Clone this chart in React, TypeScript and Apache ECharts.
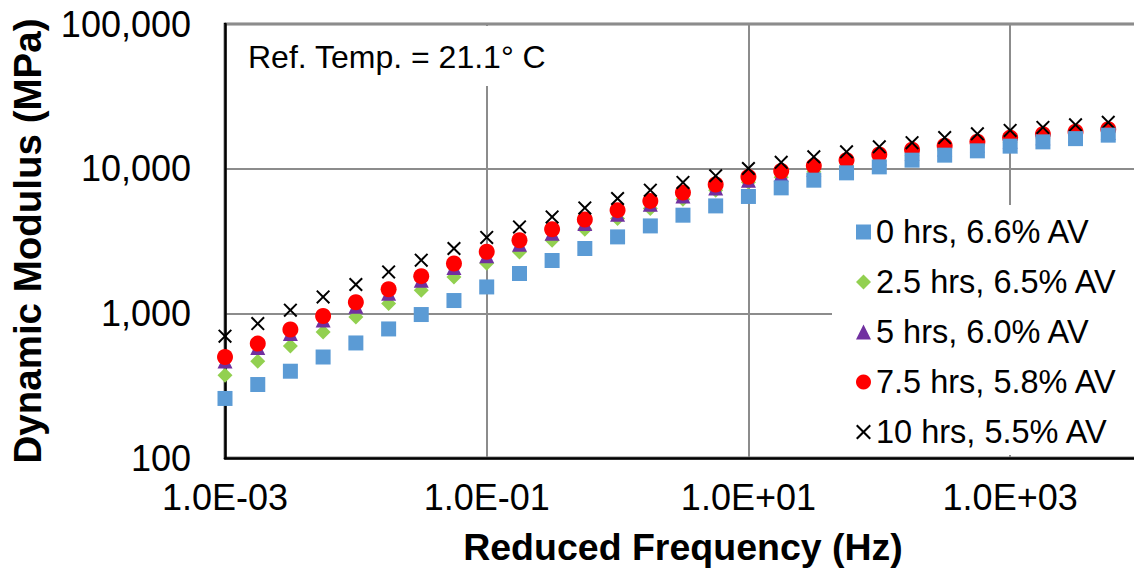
import React, { useEffect, useRef } from 'react';
import * as echarts from 'echarts';

const FONT = '"Liberation Sans", Arial, Helvetica, sans-serif';

const FREQUENCIES = [
  0.001, 0.00178, 0.00316, 0.00562, 0.01, 0.0178, 0.0316, 0.0562, 0.1, 0.178,
  0.316, 0.562, 1, 1.78, 3.16, 5.62, 10, 17.8, 31.6, 56.2, 100, 178, 316, 562,
  1000, 1780, 3160, 5620,
];

const SERIES_NAMES = [
  '0 hrs, 6.6% AV',
  '2.5 hrs, 6.5% AV',
  '5 hrs, 6.0% AV',
  '7.5 hrs, 5.8% AV',
  '10 hrs, 5.5% AV',
];

const HRS_0 = [
  258, 322, 398, 499, 624, 780, 981, 1226, 1522, 1885, 2318, 2806, 3376, 4021,
  4769, 5529, 6424, 7368, 8326, 9355, 10290, 11450, 12400, 13280, 14310, 15320,
  16130, 17050,
];
const HRS_2_5 = [
  373, 467, 595, 744, 944, 1169, 1444, 1785, 2221, 2658, 3202, 3815, 4523, 5306,
  6153, 7101, 8064, 8734, 9504, 10460, 11320, 12300, 13320, 14310, 15250, 16250,
  17050, 17890,
];
const HRS_5 = [
  468, 580, 725, 900, 1119, 1377, 1694, 2073, 2502, 3003, 3579, 4176, 4844, 5666,
  6475, 7356, 8302, 9120, 9895, 10830, 11860, 12800, 13650, 14540, 15500, 16380,
  17060, 17750,
];
const HRS_7_5 = [
  499, 618, 773, 959, 1193, 1468, 1806, 2210, 2667, 3202, 3815, 4452, 5164, 5989,
  6845, 7776, 8776, 9641, 10460, 11450, 12540, 13530, 14430, 15370, 16390, 17320,
  18030, 18760,
];
const HRS_10 = [
  695, 850, 1051, 1298, 1582, 1933, 2329, 2806, 3349, 3958, 4642, 5356, 6221,
  7101, 8027, 8917, 10030, 11060, 12070, 13070, 14150, 15130, 16390, 17400,
  18370, 19270, 20090, 20900,
];

const SERIES_VALUES = [HRS_0, HRS_2_5, HRS_5, HRS_7_5, HRS_10];
const COLORS = ['#5B9BD5', '#92D050', '#7030A0', '#FF0000', '#000000'];
const X_SYMBOL =
  'path://M0,1.4L1.4,0L7,5.6L12.6,0L14,1.4L8.4,7L14,12.6L12.6,14L7,8.4L1.4,14L0,12.6L5.6,7Z';
const SYMBOLS = ['rect', 'diamond', 'triangle', 'circle', X_SYMBOL];
const SYMBOL_SIZES: any[] = [15, 15, 15, 16, 14];
const SERIES_Z = [7, 3, 4, 5, 6];

const ANNOTATION = 'Ref. Temp. = 21.1° C';
const X_TITLE = 'Reduced Frequency (Hz)';
const Y_TITLE = 'Dynamic Modulus (MPa)';

function sciLabel(v: number) {
  const e = Math.round(Math.log10(v));
  return '1.0E' + (e < 0 ? '-' : '+') + String(Math.abs(e)).padStart(2, '0');
}

export default function App() {
  const ref = useRef<HTMLDivElement>(null);
  useEffect(() => {
    const chart = echarts.init(ref.current!, null, { renderer: 'svg' });
    chart.setOption({
      animation: false,
      backgroundColor: '#ffffff',
      textStyle: { fontFamily: FONT },
      grid: {
        left: 223,
        right: 9,
        top: 24,
        bottom: 117,
        show: true,
        borderColor: '#000',
        borderWidth: 2.5,
        backgroundColor: 'transparent',
      },
      xAxis: {
        type: 'log',
        logBase: 10,
        min: 0.001,
        max: 10000,
        interval: 2,
        axisLine: { show: true, onZero: false, lineStyle: { color: '#000', width: 2.5 } },
        axisTick: { show: false },
        minorTick: { show: false },
        axisLabel: {
          fontSize: 36,
          color: '#000',
          margin: 21,
          fontFamily: FONT,
          showMaxLabel: false,
          formatter: (v: number) => sciLabel(v),
        },
        splitLine: { show: true, lineStyle: { color: '#8c8c8c', width: 2 } },
        name: X_TITLE,
        nameLocation: 'middle',
        nameGap: 70,
        nameTextStyle: { fontSize: 37.5, fontWeight: 'bold', color: '#000', fontFamily: FONT },
      },
      yAxis: {
        type: 'log',
        logBase: 10,
        min: 100,
        max: 100000,
        interval: 1,
        axisLine: { show: true, onZero: false, lineStyle: { color: '#000', width: 2.5 } },
        axisTick: { show: false },
        minorTick: { show: false },
        axisLabel: {
          fontSize: 36,
          color: '#000',
          margin: 34,
          fontFamily: FONT,
          formatter: (v: number) => Math.round(v).toLocaleString('en-US'),
        },
        splitLine: { show: true, lineStyle: { color: '#8c8c8c', width: 2 } },
        name: Y_TITLE,
        nameLocation: 'middle',
        nameGap: 178,
        nameTextStyle: { fontSize: 38.5, fontWeight: 'bold', color: '#000', fontFamily: FONT },
      },
      legend: {
        data: SERIES_NAMES,
        orient: 'vertical',
        left: 832,
        top: 205,
        padding: [9, 60, 5, 24],
        backgroundColor: '#ffffff',
        itemWidth: 15,
        itemHeight: 15,
        itemGap: 14,
        textStyle: { fontSize: 32.5, color: '#000', lineHeight: 36, fontFamily: FONT },
      },
      graphic: [
        {
          type: 'rect',
          z: 50,
          shape: { x: 236, y: 26, width: 324, height: 60 },
          style: { fill: '#ffffff' },
          silent: true,
        },
        {
          type: 'text',
          z: 51,
          x: 248,
          y: 57,
          style: {
            text: ANNOTATION,
            fontSize: 32,
            fontFamily: FONT,
            fill: '#000',
            textVerticalAlign: 'middle',
            verticalAlign: 'middle',
          },
        },
      ],
      series: SERIES_NAMES.map((name, i) => ({
        name,
        type: 'scatter',
        symbol: SYMBOLS[i],
        symbolSize: SYMBOL_SIZES[i],
        itemStyle: { color: COLORS[i], opacity: 1 },
        z: SERIES_Z[i],
        data: FREQUENCIES.map((f, k) => [f, SERIES_VALUES[i][k]]),
      })),
    });
    return () => chart.dispose();
  }, []);
  return (
    <div
      style={{
        position: 'fixed',
        left: 0,
        top: 0,
        width: 1134,
        height: 575,
        overflow: 'hidden',
        background: '#fff',
      }}
    >
      <div ref={ref} style={{ width: 1150, height: 575 }} />
    </div>
  );
}
